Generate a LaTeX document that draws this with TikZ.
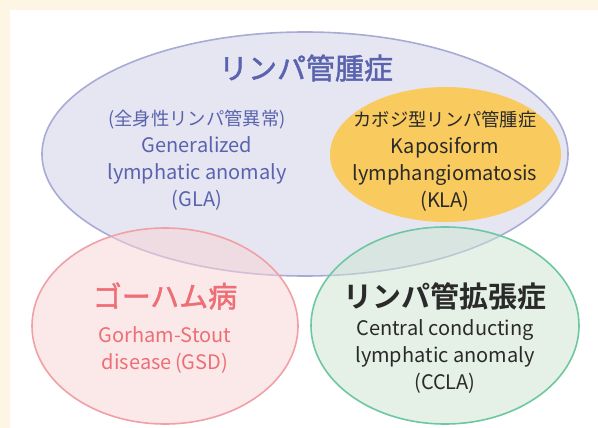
\documentclass[tikz,border=0pt]{standalone}
\usepackage{fontspec}
\setmainfont{Noto Sans CJK JP}[BoldFont={Noto Sans CJK JP Bold}]
\newfontfamily\jpmed{Noto Sans CJK JP}[FakeBold=1.6]
\definecolor{cream}{HTML}{FEF6E5}
\definecolor{lavfill}{HTML}{E6E6F2}
\definecolor{lavline}{HTML}{A7ABD6}
\definecolor{lavtext}{HTML}{5A63AE}
\definecolor{orangefill}{HTML}{F9CA5E}
\definecolor{pinkfill}{HTML}{F9D3D5}
\definecolor{pinkline}{HTML}{F0A0A6}
\definecolor{pinktext}{HTML}{EE6E76}
\definecolor{greenfill}{HTML}{CDE5D1}
\definecolor{greenline}{HTML}{6DC7A0}
\definecolor{darktext}{HTML}{2A2A2A}
\newcommand{\jpline}[1]{{\fontsize{18.3}{27}\selectfont #1}}
\tikzset{
  bubble/.style={line width=1.6pt},
  title/.style={font=\fontsize{29}{32}\selectfont\jpmed, inner sep=0pt},
  body/.style={font=\fontsize{20}{27}\selectfont, align=center, inner sep=0pt},
}
\begin{document}
\begin{tikzpicture}[x=1pt, y=-1pt]
\useasboundingbox (0,0) rectangle (598,428);
% page background and white panel
\fill[cream] (0,0) rectangle (598,428);
\fill[white] (10,10) rectangle (598,428);

% lymphatic malformation group
\path[bubble, fill=lavfill, draw=lavline] (305,154) ellipse [x radius=263pt, y radius=122pt];
\path[fill=orangefill] (445.5,154.5) ellipse [x radius=115.5pt, y radius=67.5pt];

% overlapping circles
\path[bubble, fill=pinkfill, fill opacity=0.5, draw=pinkline] (165,326) ellipse [x radius=133pt, y radius=98pt];
\path[bubble, fill=greenfill, fill opacity=0.5, draw=greenline] (445,325.5) ellipse [x radius=134pt, y radius=98.5pt];

% labels
\node[title, text=lavtext] (lmTitle) at (306,68) {リンパ管腫症};
\node[body, text=lavtext] (gla) at (197,160) {\jpline{(全身性リンパ管異常)}\\Generalized\\lymphatic anomaly\\(GLA)};
\node[body, text=darktext] (kla) at (445,161) {\jpline{カボジ型リンパ管腫症}\\Kaposiform\\lymphangiomatosis\\(KLA)};

\node[title, text=pinktext] (gsdTitle) at (165,296) {ゴーハム病};
\node[body, text=pinktext] (gsd) at (165,350) {Gorham-Stout\\disease\,(GSD)};

\node[title, text=darktext, font=\fontsize{29}{32}\selectfont\bfseries] (cclaTitle) at (445,296) {リンパ管拡張症};
\node[body, text=darktext] (ccla) at (445,356) {Central conducting\\lymphatic anomaly\\(CCLA)};
\end{tikzpicture}
\end{document}
